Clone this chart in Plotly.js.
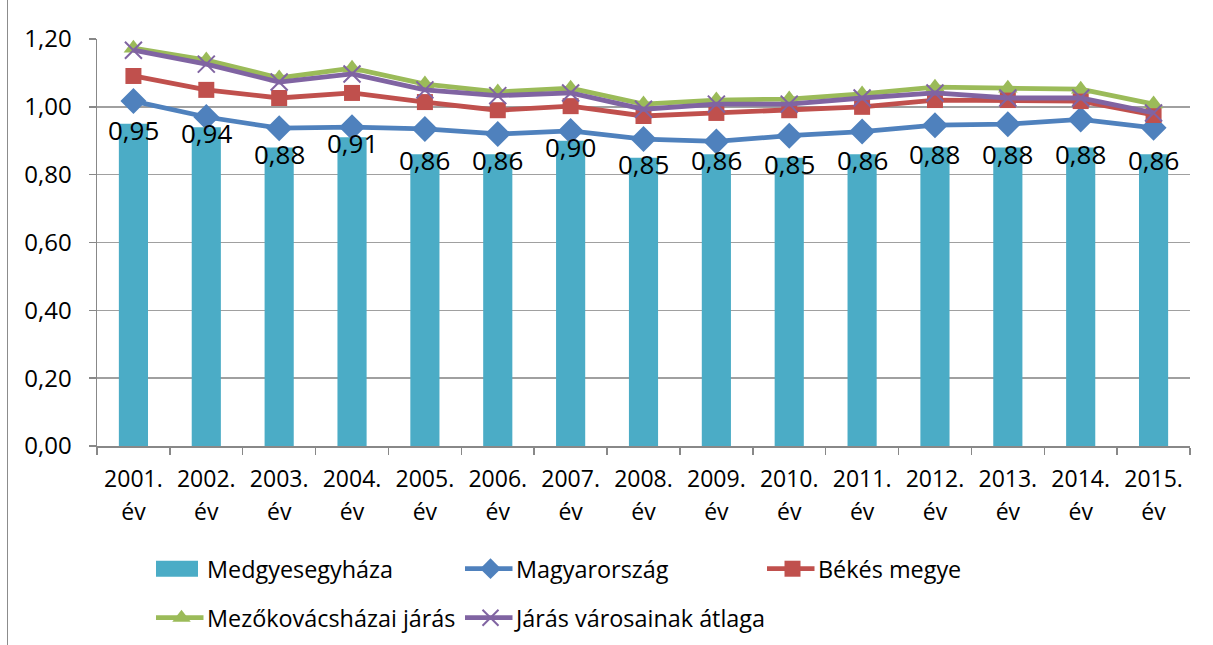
<!DOCTYPE html>
<html>
<head>
<meta charset="utf-8">
<script src="https://cdn.plot.ly/plotly-3.0.1.min.js"></script>
<style>
html,body{margin:0;padding:0;background:#fff;}
#wrap{position:absolute;left:0;top:0;width:1213px;height:645px;}
#border{position:absolute;left:7px;top:0;width:0;height:645px;border-left:1px solid #8c8c8c;}
#chart{position:absolute;left:0;top:0;width:1213px;height:645px;}
</style>
</head>
<body>
<div id="wrap"><div id="chart"></div><div id="border"></div></div>
<script>
const years = ["2001.","2002.","2003.","2004.","2005.","2006.","2007.","2008.","2009.","2010.","2011.","2012.","2013.","2014.","2015."];
const yearSuffix = "év";
const medgyesegyhaza = [0.95,0.94,0.88,0.91,0.86,0.86,0.90,0.85,0.86,0.85,0.86,0.88,0.88,0.88,0.86];
const magyarorszag = [1.017,0.970,0.937,0.940,0.935,0.920,0.929,0.905,0.898,0.915,0.927,0.946,0.949,0.963,0.938];
const bekesMegye = [1.091,1.050,1.026,1.041,1.014,0.990,1.002,0.973,0.982,0.990,1.000,1.020,1.020,1.017,0.976];
const mezokovacshazaiJaras = [1.173,1.138,1.085,1.114,1.067,1.044,1.055,1.008,1.020,1.023,1.038,1.058,1.055,1.052,1.008];
const jarasVarosainakAtlaga = [1.167,1.126,1.073,1.097,1.050,1.033,1.041,0.993,1.008,1.008,1.026,1.041,1.026,1.026,0.982];
const yTicks = [0,0.2,0.4,0.6,0.8,1.0,1.2];

const idx = years.map((y,i) => i);
const fmt = v => v.toFixed(2).replace(".", ",");

const F = "'Open Sans', 'Noto Sans', sans-serif";

const traces = [
  {type:"bar", name:"Medgyesegyháza", x:idx, y:medgyesegyhaza,
   marker:{color:"#4BACC6"}, legend:"legend", hoverinfo:"skip"},
  {type:"scatter", mode:"lines+markers", name:"Magyarország", x:idx, y:magyarorszag,
   line:{color:"#4F81BD", width:4.8}, marker:{symbol:"diamond", size:20, color:"#4F81BD"}, legend:"legend2"},
  {type:"scatter", mode:"lines+markers", name:"Békés megye", x:idx, y:bekesMegye,
   line:{color:"#C0504D", width:4.8}, marker:{symbol:"square", size:16, color:"#C0504D"}, legend:"legend3"},
  {type:"scatter", mode:"lines+markers", name:"Mezőkovácsházai járás", x:idx, y:mezokovacshazaiJaras,
   line:{color:"#9BBB59", width:4.8}, marker:{symbol:"triangle-up", size:17, color:"#9BBB59"}, legend:"legend4"},
  {type:"scatter", mode:"lines+markers", name:"Járás városainak átlaga", x:idx, y:jarasVarosainakAtlaga,
   line:{color:"#8064A2", width:4.8}, marker:{symbol:"x-thin-open", size:17, color:"#8064A2", line:{color:"#8064A2", width:2}}, legend:"legend5"},
  // helper (draws nothing) so the second row of category labels ("év") is rendered
  {type:"scatter", mode:"none", x:idx, y:idx.map(() => null), xaxis:"x2", yaxis:"y", showlegend:false, hoverinfo:"skip"}
];

const annotations = idx.map(i => ({
  x:i, y:medgyesegyhaza[i], text:fmt(medgyesegyhaza[i]), showarrow:false,
  xref:"x", yref:"y", yshift:-6, font:{family:F, size:26, color:"#000"}
}));

function leg(px, py) {
  return {orientation:"h", xref:"container", yref:"container", xanchor:"left", yanchor:"middle",
    x:px/1213, y:1-py/645, font:{family:F, size:23.4, color:"#000"}, bgcolor:"rgba(0,0,0,0)",
    borderwidth:0, itemwidth:41};
}

const layout = {
  width:1213, height:645,
  margin:{l:97, r:23, t:39, b:199, autoexpand:false},
  paper_bgcolor:"#fff", plot_bgcolor:"#fff",
  font:{family:F, size:22, color:"#000"},
  bargap:0.6,
  showlegend:true,
  xaxis:{type:"linear", tickmode:"array", tickvals:idx, ticktext:years,
    range:[-0.5,14.5], showline:true, linecolor:"#888", linewidth:1.5, automargin:false,
    ticks:"", ticklabelstandoff:12, minor:{tickmode:"array", tickvals:idx.concat([idx.length]).map(i => i-0.5), ticks:"outside", ticklen:7, tickcolor:"#888", tickwidth:1.5, showgrid:false},
    tickfont:{family:F, size:23, color:"#000"}, showgrid:false, zeroline:false, fixedrange:true},
  xaxis2:{type:"linear", overlaying:"x", anchor:"y", side:"bottom", tickmode:"array", tickvals:idx,
    ticktext:idx.map(() => yearSuffix), range:[-0.5,14.5], showline:false, ticks:"", automargin:false,
    ticklabelstandoff:50, showgrid:false, zeroline:false, tickfont:{family:F, size:23, color:"#000"}, fixedrange:true},
  yaxis:{range:[0,1.2], tickmode:"array", tickvals:yTicks, ticktext:yTicks.map(fmt), automargin:false,
    showline:true, linecolor:"#888", linewidth:1.5, ticks:"outside", ticklen:7, tickcolor:"#888", tickwidth:1.5,
    ticklabelstandoff:12,
    showgrid:true, gridcolor:"#a0a0a0", gridwidth:1.5, zeroline:false,
    tickfont:{family:F, size:24, color:"#000"}, fixedrange:true},
  legend:leg(156, 569),
  legend2:leg(465, 569),
  legend3:leg(767, 569),
  legend4:leg(156, 618),
  legend5:leg(465, 618),
  annotations:annotations
};

Plotly.newPlot("chart", traces, layout, {displayModeBar:false, staticPlot:true}).then(gd => {
  gd.querySelectorAll("g.legendlines path").forEach(p => p.setAttribute("d", "M-7.5,0h55"));
  gd.querySelectorAll("g.traces").forEach(g => {
    const t = g.querySelector("text.legendtext");
    if (t && t.textContent === "Medgyesegyháza") {
      g.querySelectorAll("g.legendpoints path").forEach(p => {
        p.setAttribute("d", "M22,8H-30V-8H22Z");
        p.setAttribute("transform", "translate(20,0)");
      });
    }
  });
});
</script>
</body>
</html>
